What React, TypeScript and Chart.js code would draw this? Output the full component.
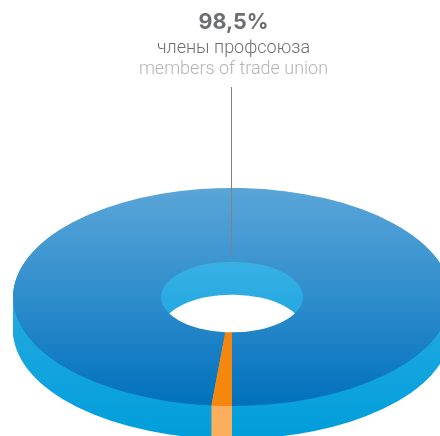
import React, { useEffect, useRef } from "react";
import { Chart, registerables } from "chart.js";

Chart.register(...registerables);

const categories = ["члены профсоюза / members of trade union", "другие / others"];
const shares = [98.5, 1.5];
const headline = "98,5%";
const labelRu = "члены профсоюза";
const labelEn = "members of trade union";

const WIDTH = 440;
const HEIGHT = 436;
const CX = 232;
const CY = 297;
const RX = 219;
const RY = 109;
const K = RY / RX;
const DEPTH = 33;
const AX = WIDTH / 2;
const AY = HEIGHT / 2;

const localY = (screenY: number, d = 0) => AY + (screenY - CY - d) / K;

function sideGradient(ctx: CanvasRenderingContext2D, d: number) {
  const g = ctx.createLinearGradient(0, localY(262, d), 0, localY(438, d));
  g.addColorStop(0, "#38b0e4");
  g.addColorStop(0.4, "#1ca7df");
  g.addColorStop(1, "#009edb");
  return g;
}

const solidPlugin = {
  id: "solidDisc",
  beforeDatasetsDraw(chart: any) {
    const ctx: CanvasRenderingContext2D = chart.ctx;
    const arcs = chart.getDatasetMeta(0).data;
    for (let d = DEPTH; d >= 1; d--) {
      const wall = [sideGradient(ctx, d), "#fbae5c"];
      arcs.forEach((arc: any, i: number) => {
        const original = arc.options;
        arc.options = { ...original, backgroundColor: wall[i] };
        ctx.save();
        ctx.translate(CX, CY + d);
        ctx.scale(1, K);
        ctx.translate(-arc.x, -arc.y);
        arc.draw(ctx);
        ctx.restore();
        arc.options = original;
      });
    }
    ctx.save();
    ctx.translate(CX, CY);
    ctx.scale(1, K);
    ctx.translate(-AX, -AY);
  },
  afterDatasetsDraw(chart: any) {
    const ctx: CanvasRenderingContext2D = chart.ctx;
    ctx.restore();
    ctx.save();
    ctx.strokeStyle = "#808285";
    ctx.lineWidth = 1;
    ctx.beginPath();
    ctx.moveTo(231.5, 87);
    ctx.lineTo(231.5, 255);
    ctx.stroke();
    ctx.restore();
  },
};

const textStyle = (top: number, size: number, color: string, weight: number, family: string): React.CSSProperties => ({
  position: "absolute",
  left: 33.5,
  width: 400,
  top,
  textAlign: "center",
  fontFamily: family,
  fontSize: size,
  lineHeight: "24px",
  fontWeight: weight,
  color,
  whiteSpace: "nowrap",
});

export default function App() {
  const ref = useRef<HTMLCanvasElement>(null);
  useEffect(() => {
    const canvas = ref.current!;
    const ctx = canvas.getContext("2d")!;
    const top = ctx.createLinearGradient(0, localY(188), 0, localY(406));
    top.addColorStop(0, "#5aa5d8");
    top.addColorStop(0.5, "#2f8dcc");
    top.addColorStop(1, "#0070bc");
    const chart = new Chart(canvas, {
      type: "doughnut",
      data: {
        labels: categories,
        datasets: [
          {
            data: shares,
            backgroundColor: [top, "#f5870f"],
            borderWidth: 0,
            clip: false,
          } as any,
        ],
      },
      options: {
        animation: false,
        responsive: false,
        radius: RX,
        cutout: "32.4%",
        rotation: 185.4,
        layout: { padding: 0 },
        plugins: { legend: { display: false }, tooltip: { enabled: false } },
      } as any,
      plugins: [solidPlugin],
    });
    return () => chart.destroy();
  }, []);
  return (
    <div style={{ position: "fixed", left: 0, top: 0, width: WIDTH, height: HEIGHT, overflow: "hidden", background: "#fff" }}>
      <canvas ref={ref} width={WIDTH} height={HEIGHT} style={{ position: "absolute", left: 0, top: 0 }} />
      <div style={textStyle(9, 21.5, "#6d6e71", 700, "Inter, sans-serif")}>{headline}</div>
      <div style={textStyle(35, 18, "#6d6e71", 300, "Roboto, sans-serif")}>{labelRu}</div>
      <div style={textStyle(56, 18, "#b2b4b6", 300, "Roboto, sans-serif")}>{labelEn}</div>
    </div>
  );
}
